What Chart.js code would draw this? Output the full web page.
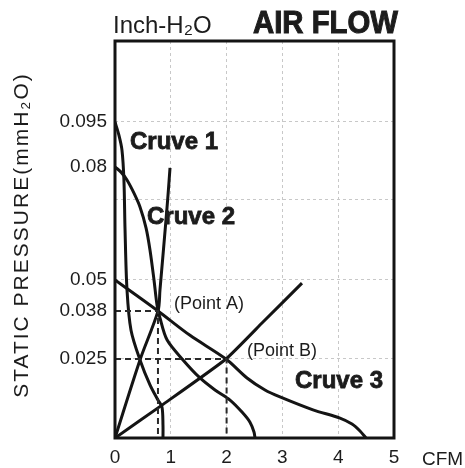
<!DOCTYPE html>
<html>
<head>
<meta charset="utf-8">
<script src="https://cdn.jsdelivr.net/npm/chart.js@4.4.0/dist/chart.umd.min.js"></script>
<style>
  html, body { margin: 0; padding: 0; background: #fff; }
  #wrap { width: 465px; height: 468px; position: relative; }
</style>
</head>
<body>
<div id="wrap"><canvas id="flow-chart"></canvas></div>
<script>
// fan curves: [CFM, inch-H2O]
const curve1 = [[0, 0.095], [0.07, 0.0906], [0.125, 0.0856], [0.16, 0.076], [0.18, 0.0625],
  [0.215, 0.0462], [0.287, 0.0328], [0.448, 0.0247], [0.627, 0.0168], [0.77, 0.012],
  [0.842, 0.0098], [0.86, 0.004], [0.86, 0]];
const curve2 = [[0, 0.08], [0.108, 0.0784], [0.215, 0.076], [0.34, 0.072], [0.448, 0.0682],
  [0.556, 0.063], [0.627, 0.0575], [0.699, 0.05], [0.753, 0.0403], [0.806, 0.0361],
  [0.932, 0.0302], [1.219, 0.0247], [1.523, 0.019], [1.792, 0.0152], [2.061, 0.012],
  [2.276, 0.0082], [2.419, 0.005], [2.491, 0.0019], [2.509, 0]];
const curve3 = [[0, 0.05], [0.376, 0.0442], [0.771, 0.038], [1.344, 0.0314], [1.989, 0.025],
  [2.366, 0.019], [2.688, 0.0152], [2.957, 0.013], [3.548, 0.0089], [4.032, 0.0063],
  [4.247, 0.0044], [4.391, 0.0022], [4.498, 0]];
// system impedance lines
const systemA = [[0, 0], [0.448, 0.0247], [0.771, 0.038], [0.806, 0.0462], [0.86, 0.0562],
  [0.914, 0.065], [0.95, 0.0714], [0.986, 0.0797]];
const systemB = [[0, 0], [0.842, 0.0104], [1.989, 0.025], [2.652, 0.035], [3.351, 0.0488]];

const pointA = [0.77, 0.038];
const pointB = [2, 0.025];

const xTicks = [0, 1, 2, 3, 4, 5];
const yLabelled = [0.025, 0.038, 0.05, 0.08, 0.095];
const yGridAt = [0.025, 0.05, 0.07, 0.095];
const yMax = 0.12;

// the printed axis is not quite linear: value -> fraction of plot height
const warpValues = [0, 0.025, 0.038, 0.05, 0.07, 0.08, 0.095, 0.12];
const warpFracs = [0, 0.199, 0.320, 0.398, 0.600, 0.683, 0.796, 1];

function interp(v, from, to) {
  if (v <= from[0]) return to[0] + (v - from[0]) * (to[1] - to[0]) / (from[1] - from[0]);
  for (let i = 1; i < from.length; i++) {
    if (v <= from[i]) {
      const t = (v - from[i - 1]) / (from[i] - from[i - 1]);
      return to[i - 1] + t * (to[i] - to[i - 1]);
    }
  }
  const n = from.length - 1;
  return to[n] + (v - from[n]) * (to[n] - to[n - 1]) / (from[n] - from[n - 1]);
}

class PrintedScale extends Chart.LinearScale {
  static id = 'printed';
  getPixelForValue(value) {
    return this.getPixelForDecimal(interp(value, warpValues, warpFracs));
  }
  getValueForPixel(pixel) {
    return interp(this.getDecimalForPixel(pixel), warpFracs, warpValues);
  }
}
Chart.register(PrintedScale);

const toXY = pts => pts.map(p => ({ x: p[0], y: p[1] }));

const curveStyle = { borderColor: '#141414', borderWidth: 3, pointRadius: 0, tension: 0.3, fill: false };
const guideStyle = { borderColor: '#2a2a2a', borderWidth: 2, borderDash: [6, 4], pointRadius: 0, tension: 0, fill: false };

const FONT = '"Liberation Sans", Arial, sans-serif';

const frameAndText = {
  id: 'frameAndText',
  afterDatasetsDraw(chart) {
    const { ctx, chartArea: a } = chart;
    ctx.save();
    ctx.lineWidth = 3;
    ctx.strokeStyle = '#141414';
    ctx.strokeRect(a.left, a.top, a.right - a.left, a.bottom - a.top);
    ctx.restore();
  },
  afterDraw(chart) {
    const ctx = chart.ctx;
    ctx.save();
    ctx.fillStyle = '#1c1c1c';
    ctx.strokeStyle = '#1c1c1c';
    ctx.textBaseline = 'alphabetic';
    ctx.textAlign = 'left';

    ctx.font = '24px ' + FONT;
    ctx.fillText('Inch-H₂O', 113, 33, 100);

    ctx.font = 'bold 31px ' + FONT;
    ctx.lineWidth = 1;
    ctx.fillText('AIR FLOW', 253, 33, 145);
    ctx.strokeText('AIR FLOW', 253, 33, 145);

    ctx.font = 'bold 24px ' + FONT;
    ctx.lineWidth = 0.8;
    [['Cruve 1', 130, 149, 89], ['Cruve 2', 147, 224, 93], ['Cruve 3', 295, 388, 93]].forEach(t => {
      ctx.fillText(t[0], t[1], t[2], t[3]);
      ctx.strokeText(t[0], t[1], t[2], t[3]);
    });

    ctx.font = '18px ' + FONT;
    ctx.fillText('(Point A)', 174, 309, 75);
    ctx.fillText('(Point B)', 247, 356, 77);

    ctx.font = '19px ' + FONT;
    ctx.fillText('CFM', 422, 465);

    // y title
    ctx.translate(22, 235);
    ctx.rotate(-Math.PI / 2);
    ctx.textAlign = 'center';
    ctx.textBaseline = 'middle';
    ctx.font = '21px ' + FONT;
    ctx.letterSpacing = '2px';
    ctx.fillText('STATIC PRESSURE(mmH₂O)', 0, 0);
    ctx.restore();
  }
};

function renderChart() {
  const ctx = document.getElementById('flow-chart').getContext('2d');
  new Chart(ctx, {
    type: 'line',
    data: {
      datasets: [
        { data: toXY([[0, pointA[1]], pointA, [pointA[0], 0]]), ...guideStyle },
        { data: toXY([[0, pointB[1]], pointB, [pointB[0], 0]]), ...guideStyle },
        { data: toXY(curve1), ...curveStyle },
        { data: toXY(curve2), ...curveStyle },
        { data: toXY(curve3), ...curveStyle },
        { data: toXY(systemA), ...curveStyle },
        { data: toXY(systemB), ...curveStyle, tension: 0.15 }
      ]
    },
    options: {
      responsive: true,
      maintainAspectRatio: false,
      animation: false,
      layout: { padding: { left: 0, top: 41, right: 71, bottom: 0 } },
      plugins: { legend: { display: false }, tooltip: { enabled: false } },
      scales: {
        x: {
          type: 'linear',
          min: 0,
          max: 5,
          afterBuildTicks: s => { s.ticks = xTicks.map(v => ({ value: v })); },
          afterFit: s => { s.height = 30; },
          ticks: { autoSkip: false, maxRotation: 0, padding: 8, color: '#1c1c1c', font: { family: FONT, size: 19 } },
          grid: {
            drawTicks: false,
            color: c => (c.tick && c.tick.value > 0 && c.tick.value < 5) ? '#c8c8c8' : 'transparent'
          },
          border: { display: false, dash: [3, 3] }
        },
        y: {
          type: 'printed',
          min: 0,
          max: yMax,
          afterBuildTicks: s => { s.ticks = warpValues.map(v => ({ value: v })); },
          afterFit: s => { s.width = 115; },
          ticks: {
            autoSkip: false,
            padding: 8,
            color: '#1c1c1c',
            font: { family: FONT, size: 19 },
            callback: v => yLabelled.includes(v) ? String(v) : ''
          },
          grid: {
            drawTicks: false,
            color: c => (c.tick && yGridAt.includes(c.tick.value)) ? '#c8c8c8' : 'transparent'
          },
          border: { display: false, dash: [3, 3] }
        }
      }
    },
    plugins: [frameAndText]
  });
}

document.addEventListener('DOMContentLoaded', renderChart);
</script>
</body>
</html>
